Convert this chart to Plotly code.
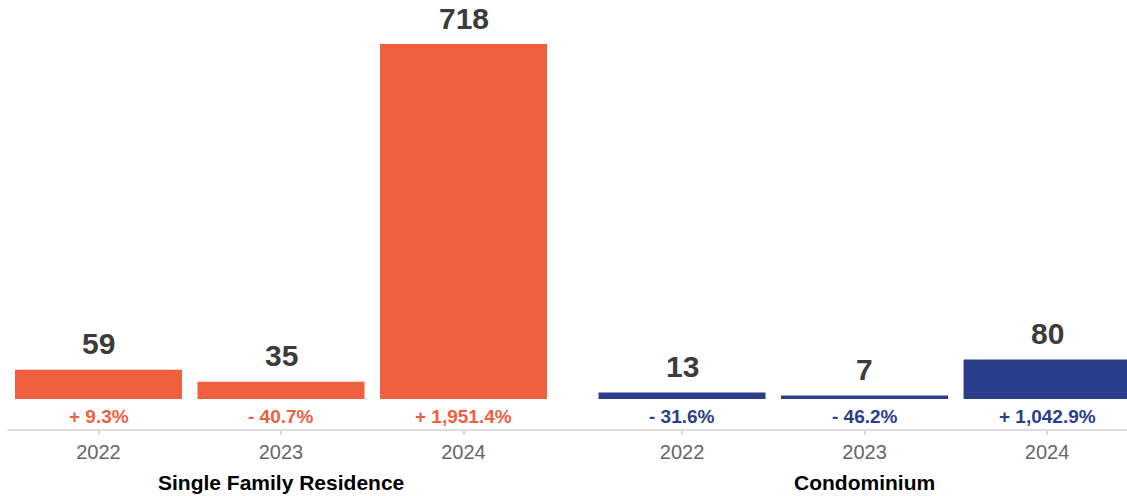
import plotly.graph_objects as go

years = ["2022", "2023", "2024"]
sfr_values = [59, 35, 718]
sfr_change = [9.3, -40.7, 1951.4]
condo_values = [13, 7, 80]
condo_change = [-31.6, -46.2, 1042.9]
group_names = ["Single Family Residence", "Condominium"]

ORANGE = "#EF5F40"
NAVY = "#2A3E8B"
FONT = "Liberation Sans, Arial, Helvetica, sans-serif"

def pct(v):
    return f"{'+' if v > 0 else '-'} {abs(v):,.1f}%"

fig = go.Figure()
groups = [(sfr_values, sfr_change, ORANGE, "x", "y", group_names[0]),
          (condo_values, condo_change, NAVY, "x2", "y2", group_names[1])]
for vals, chg, col, xa, ya, gname in groups:
    fig.add_trace(go.Bar(x=years, y=vals, marker=dict(color=col, line=dict(width=0)),
                         xaxis=xa, yaxis=ya, showlegend=False, hoverinfo="x+y"))
    for i, (v, c) in enumerate(zip(vals, chg)):
        fig.add_annotation(x=i, y=v, xref=xa, yref=ya, text=f"<b>{v:,}</b>", showarrow=False,
                           yanchor="middle", yshift=26,
                           font=dict(family=FONT, size=30, color="#3C3C3C"))
        fig.add_annotation(x=i, y=0, xref=xa, yref=ya, text=f"<b>{pct(c)}</b>", showarrow=False,
                           yanchor="middle", yshift=-17,
                           font=dict(family=FONT, size=19, color=col))
    # group label centred under the middle category
    fig.add_annotation(x=(len(years) - 1) / 2, y=0, xref=xa, yref=f"{ya} domain",
                       text=f"<b>{gname}</b>", showarrow=False, yanchor="middle", yshift=-52,
                       font=dict(family=FONT, size=21, color="#000000"))

W, H = 1127, 496
yr_lo, yr_hi = -62.7, 766.6
common_x = dict(type="category", showgrid=False, showline=False, zeroline=False,
                ticks="outside", ticklen=4, tickwidth=2, tickcolor="#DDDDDD",
                tickfont=dict(family=FONT, size=20, color="#666666"))
fig.update_layout(
    width=W, height=H,
    margin=dict(l=0, r=0, t=20, b=66),
    paper_bgcolor="white", plot_bgcolor="white",
    bargap=0.085,
    xaxis=dict(domain=[7.25 / W, 554.75 / W], range=[-0.5, 2.5], anchor="y", **common_x),
    xaxis2=dict(domain=[590.75 / W, 1.0], range=[-0.5, 2.438], anchor="y2", **common_x),
    yaxis=dict(range=[yr_lo, yr_hi], visible=False, domain=[0, 1]),
    yaxis2=dict(range=[yr_lo, yr_hi], visible=False, domain=[0, 1], anchor="x2", matches="y"),
)
fig.add_shape(type="line", xref="paper", yref="y domain", x0=7.5 / W, x1=1.0, y0=0, y1=0,
              line=dict(color="#DDDDDD", width=2), layer="above")

fig.write_html("out.html")
